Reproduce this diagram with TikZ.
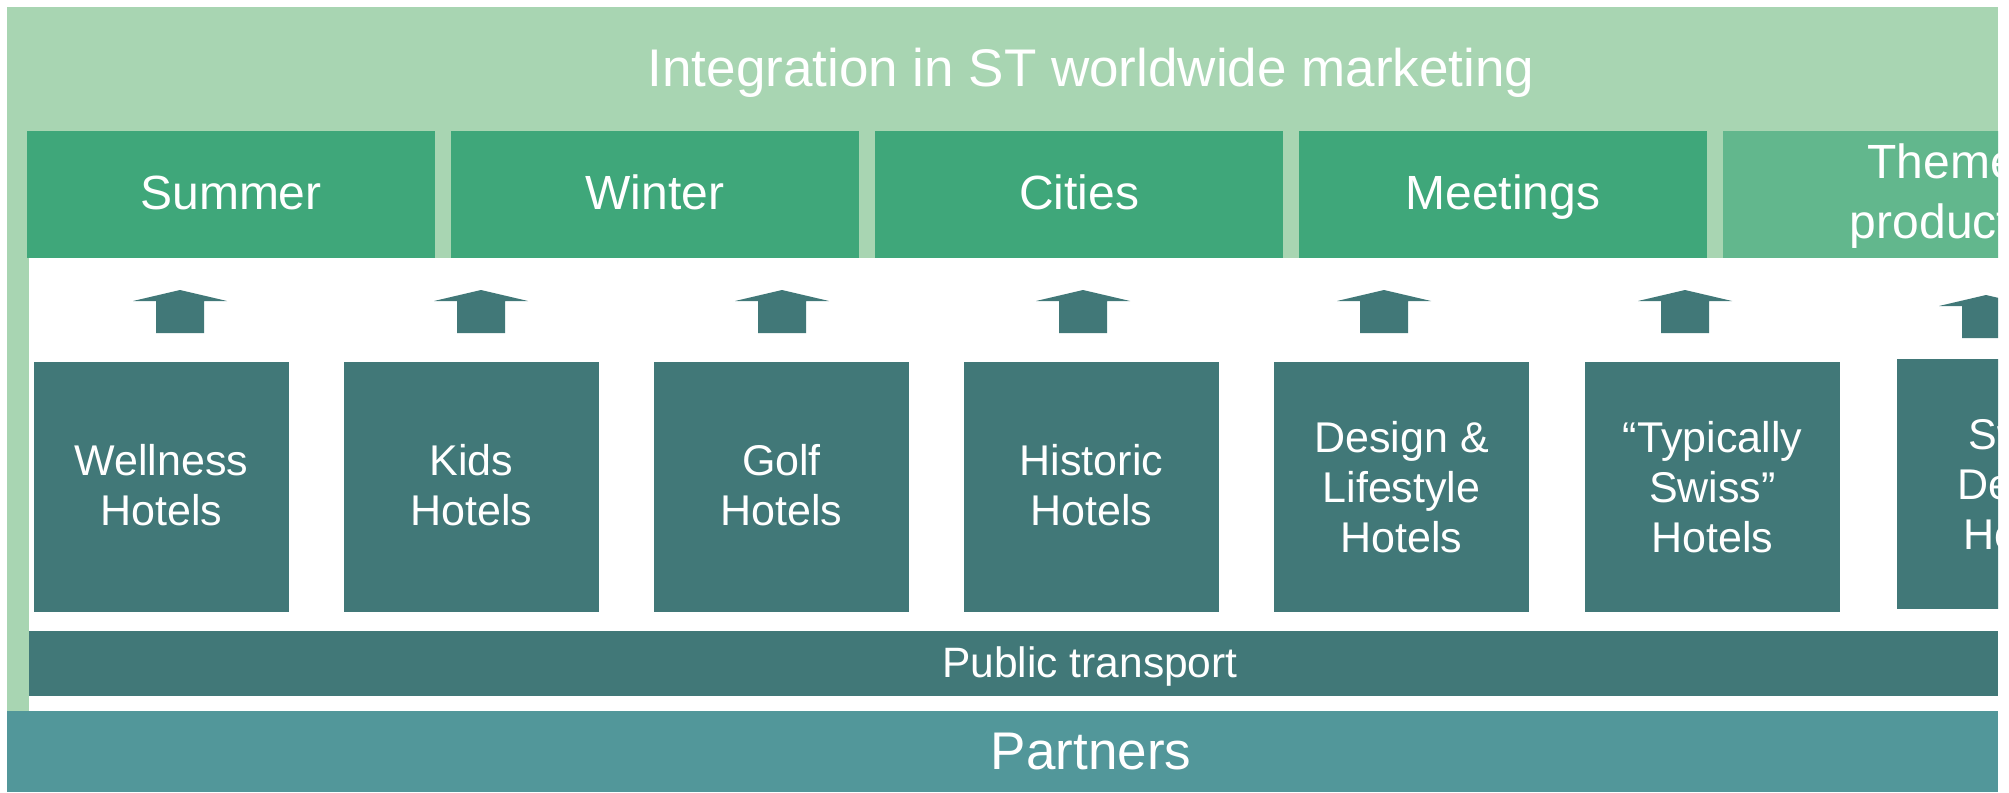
\documentclass[tikz,border=0pt]{standalone}
\usepackage{fontspec}
\setmainfont{Liberation Sans}
\definecolor{lightgreen}{HTML}{A8D5B2}
\definecolor{topgreen}{HTML}{3FA77A}
\definecolor{themegreen}{HTML}{62B78D}
\definecolor{hotelteal}{HTML}{417878}
\definecolor{partnerteal}{HTML}{52979A}
\begin{document}
\begin{tikzpicture}[x=1pt,y=-1pt,
  plain/.style={inner sep=0pt,outer sep=0pt,anchor=north west},
  topbox/.style={plain,fill=topgreen,minimum width=408pt,minimum height=127pt,
     text=white,font=\fontsize{48}{56}\selectfont,text height=29pt,text depth=0pt},
  hotelbox/.style={plain,fill=hotelteal,minimum width=255pt,minimum height=250pt},
  hotellabel/.style={inner sep=0pt,text=white,align=center,font=\fontsize{43}{50}\selectfont},
  bigtext/.style={inner sep=0pt,anchor=base,text=white,font=\fontsize{53}{60}\selectfont},
  midtext/.style={inner sep=0pt,anchor=base,text=white,font=\fontsize{42.5}{50}\selectfont},
  uparrow/.style={fill=hotelteal}]
\useasboundingbox (0,0) rectangle (2009,792);
\begin{scope}
\clip (0,0) rectangle (1998,792);
% background frame
\node[plain,fill=lightgreen,minimum width=1991pt,minimum height=705pt] (outer) at (7,7) {};
\node[plain,fill=white,minimum width=1969pt,minimum height=454pt] (inner) at (29,258) {};
\node[bigtext] (title) at (1091,86) {Integration in ST worldwide marketing};
% top boxes
\node[topbox] (summer) at (27,131) {Summer};
\node[topbox] (winter) at (451,131) {Winter};
\node[topbox] (cities) at (875,131) {Cities};
\node[topbox] (meetings) at (1299,131) {Meetings};
\node[plain,fill=themegreen,minimum width=434pt,minimum height=127pt] (theme) at (1723,131) {};
\node[inner sep=0pt,text=white,align=center,font=\fontsize{48}{60}\selectfont] (themelabel) at (1942,196) {Theme\\products};
% arrows
\foreach \c [count=\i] in {180,481,782,1083,1384,1685}{
  \fill[uparrow] (\c,290) -- ++(47,11) -- ++(-23,0) -- ++(0,32) -- ++(-48,0) -- ++(0,-32) -- ++(-23,0) -- cycle;
}
\fill[uparrow] (1986,295) -- ++(47,11) -- ++(-23,0) -- ++(0,32) -- ++(-48,0) -- ++(0,-32) -- ++(-23,0) -- cycle;
% hotel boxes
\node[hotelbox] (h1) at (34,362) {};
\node[hotelbox] (h2) at (344,362) {};
\node[hotelbox] (h3) at (654,362) {};
\node[hotelbox] (h4) at (964,362) {};
\node[hotelbox] (h5) at (1274,362) {};
\node[hotelbox] (h6) at (1585,362) {};
\node[hotelbox] (h7) at (1897,359) {};
\node[hotellabel] (l1) at ([yshift=2pt]h1.center) {Wellness\\Hotels};
\node[hotellabel] (l2) at ([yshift=2pt]h2.center) {Kids\\Hotels};
\node[hotellabel] (l3) at ([yshift=2pt]h3.center) {Golf\\Hotels};
\node[hotellabel] (l4) at ([yshift=2pt]h4.center) {Historic\\Hotels};
\node[hotellabel] (l5) at (h5.center) {Design \&\\Lifestyle\\Hotels};
\node[hotellabel] (l6) at (h6.center) {“Typically\\Swiss”\\Hotels};
\node[hotellabel] (l7) at (h7.center) {Swiss\\Deluxe\\Hotels};
% bottom bars
\node[plain,fill=hotelteal,minimum width=1969pt,minimum height=65pt] (transport) at (29,631) {};
\node[midtext] (transportlabel) at (1090,677) {Public transport};
\node[plain,fill=partnerteal,minimum width=1991pt,minimum height=81pt] (partners) at (7,711) {};
\node[bigtext] (partnerslabel) at (1091,769) {Partners};
\end{scope}
\end{tikzpicture}
\end{document}
